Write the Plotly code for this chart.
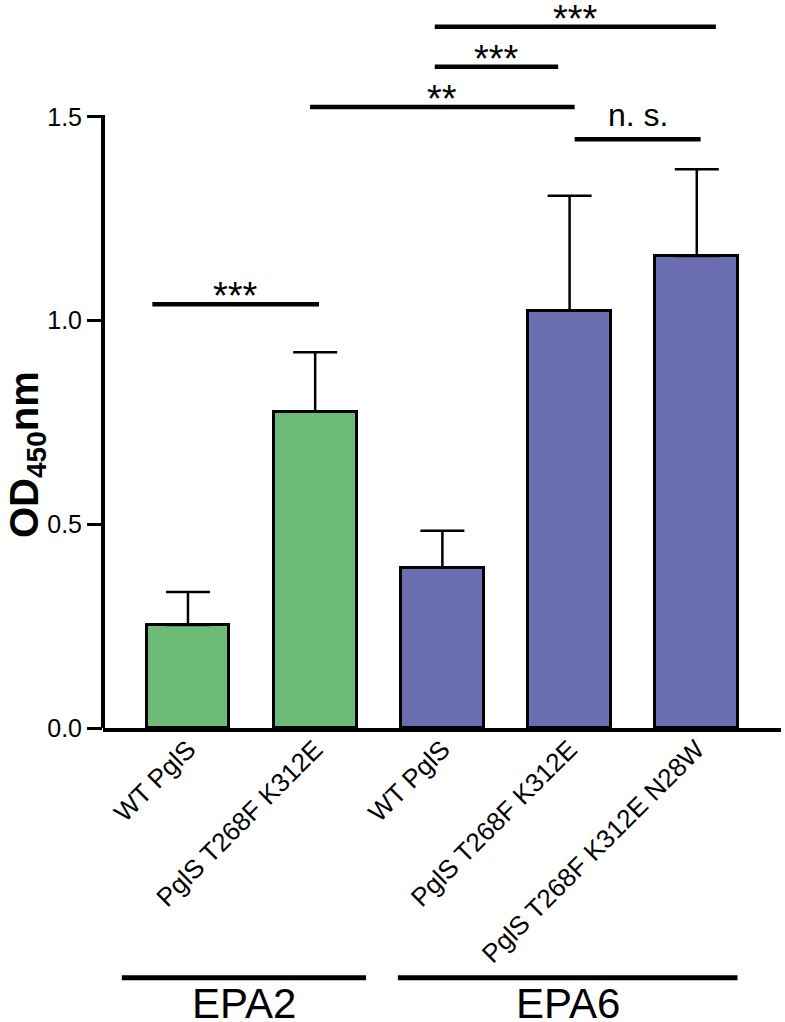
import plotly.graph_objects as go

# ---- data ----
categories = ["WT PglS", "PglS T268F K312E", "WT PglS", "PglS T268F K312E", "PglS T268F K312E N28W"]
groups = ["EPA2", "EPA2", "EPA6", "EPA6", "EPA6"]
means = [0.253, 0.776, 0.393, 1.024, 1.158]
errors = [0.081, 0.146, 0.091, 0.282, 0.213]
group_colors = {"EPA2": "#6DBB75", "EPA6": "#6A6DB0"}

# significance brackets: (x start, x end, height, label)
sig_start = [-0.28, 0.96, 1.94, 1.94, 3.04]
sig_end = [1.03, 3.04, 2.91, 4.15, 4.03]
sig_level = [1.040, 1.524, 1.623, 1.721, 1.445]
sig_label = ["***", "**", "***", "***", "n. s."]

# group brackets under the axis
group_names = ["EPA2", "EPA6"]
group_start = [-0.52, 1.65]
group_end = [1.40, 4.32]

FONT = "Arial, 'Liberation Sans', Helvetica, sans-serif"

W, H = 785, 1022
ML, MR, MT, MB = 103, 4, 0, 294
plot_h = H - MT - MB
px_per_unit = 407.5
y_top = plot_h / px_per_unit

x_pos = list(range(len(categories)))

fig = go.Figure()
fig.add_trace(go.Bar(
    x=x_pos,
    y=means,
    width=0.65,
    marker=dict(color=[group_colors[g] for g in groups],
                line=dict(color="black", width=3)),
    error_y=dict(type="data", symmetric=False, array=errors,
                 arrayminus=[0] * len(errors),
                 color="black", thickness=2.5, width=22),
    showlegend=False,
))

shapes = []
annotations = []

# y axis line only up to 1.5
shapes.append(dict(type="line", xref="paper", yref="y", x0=0, x1=0,
                   y0=-0.004, y1=1.504, line=dict(color="black", width=4),
                   layer="above"))

for xs, xe, lv, lab in zip(sig_start, sig_end, sig_level, sig_label):
    shapes.append(dict(type="line", xref="x", yref="y", x0=xs, x1=xe,
                       y0=lv, y1=lv, line=dict(color="black", width=4.5),
                       layer="above"))
    is_star = "*" in lab
    annotations.append(dict(
        x=(xs + xe) / 2, y=lv, xref="x", yref="y", text=lab,
        showarrow=False, xanchor="center", yanchor="middle",
        yshift=8 if is_star else 24,
        font=dict(family=FONT, size=38 if is_star else 32, color="black"),
    ))

line_y = ((H - MB) - 977.7) / plot_h
text_y = ((H - MB) - 1003) / plot_h
for name, xs, xe in zip(group_names, group_start, group_end):
    shapes.append(dict(type="line", xref="x", yref="paper", x0=xs, x1=xe,
                       y0=line_y, y1=line_y, line=dict(color="black", width=5)))
    annotations.append(dict(
        x=(xs + xe) / 2, y=text_y, xref="x", yref="paper", text=name,
        showarrow=False, xanchor="center", yanchor="middle",
        font=dict(family=FONT, size=42, color="black"),
    ))

# y axis title
annotations.append(dict(
    x=(27 - ML) / (W - ML - MR), y=((H - MB) - 455) / plot_h,
    xref="paper", yref="paper", text="<b>OD<sub>450</sub>nm</b>",
    textangle=-90, showarrow=False, xanchor="center", yanchor="middle",
    font=dict(family=FONT, size=40, color="black"),
))

fig.update_layout(
    width=W, height=H,
    margin=dict(l=ML, r=MR, t=MT, b=MB, pad=0),
    plot_bgcolor="white", paper_bgcolor="white",
    shapes=shapes, annotations=annotations,
    bargap=0,
)
fig.update_xaxes(
    range=[-0.668, 4.662], tickmode="array", tickvals=x_pos, ticktext=categories,
    tickangle=-45, showline=True, linecolor="black", linewidth=3.5,
    ticks="", showgrid=False, zeroline=False, ticklabelstandoff=-8,
    tickfont=dict(family=FONT, size=26, color="black"),
)
fig.update_yaxes(
    range=[0, y_top], tickmode="array", tickvals=[0, 0.5, 1.0, 1.5],
    ticktext=["0.0", "0.5", "1.0", "1.5"],
    ticks="outside", ticklen=15, tickwidth=3, tickcolor="black",
    showline=False, showgrid=False, zeroline=False,
    tickfont=dict(family=FONT, size=25, color="black"),
)

fig.write_html("out.html")
